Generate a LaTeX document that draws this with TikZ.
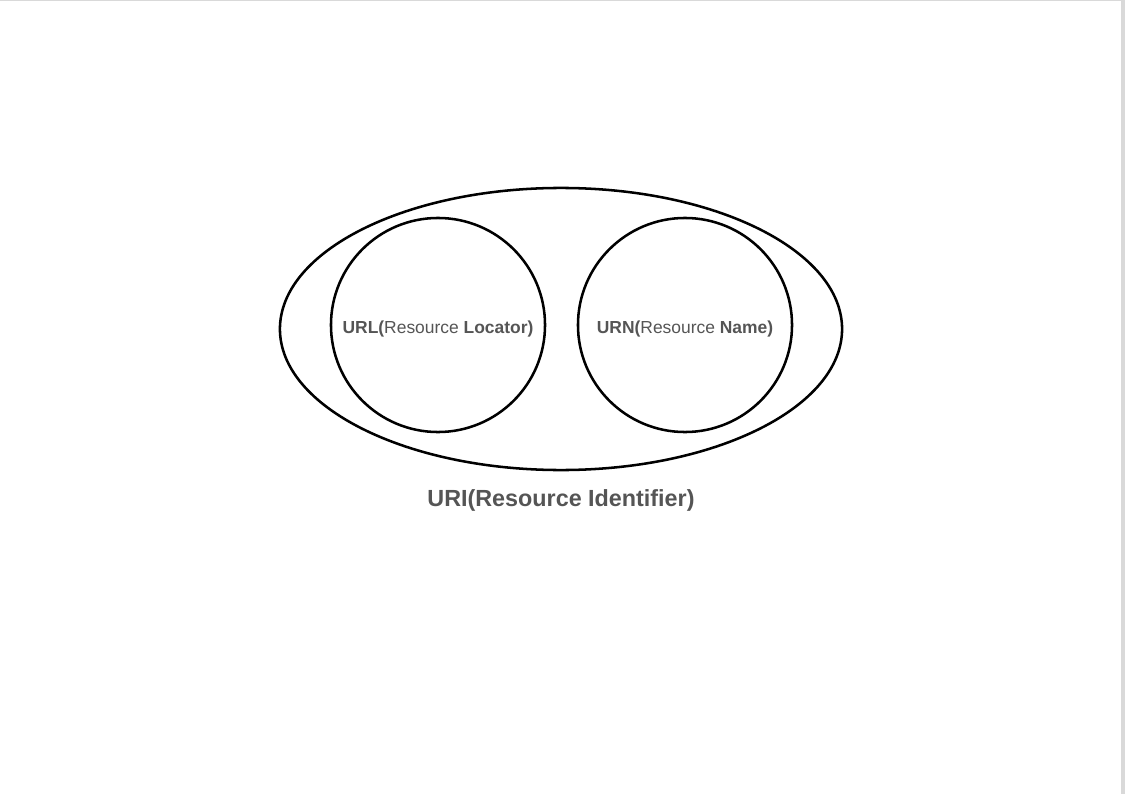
\documentclass[tikz,border=0pt]{standalone}
\usepackage{fontspec}
\setmainfont{Liberation Sans}
\usepackage{xcolor}
\usepackage{tikz}
\usetikzlibrary{shapes}
\definecolor{labelgray}{HTML}{555555}

\begin{document}
\begin{tikzpicture}[x=0.025cm, y=-0.025cm,
  set/.style={draw, line width=1.8pt, inner sep=0pt},
  setlabel/.style={text=labelgray, font=\fontsize{12.4}{14}\selectfont, text depth=0pt}]
\useasboundingbox (0,0) rectangle (1125,794);
% page edge
\fill[black!15] (1121,0) rectangle (1125,794);
\draw[black!15, line width=1pt] (0,0.5) -- (1121,0.5);

% outer set and the two inner sets
\node (uri) [set, ellipse, minimum width=14.05cm, minimum height=7.05cm] at (561,329) {};
\node (url) [set, circle, minimum size=5.35cm] at (438,325) {};
\node (urn) [set, circle, minimum size=5.35cm] at (685,325) {};
\node (urltext) [setlabel] at (438,327.5) {\textbf{URL(}Resource \textbf{Locator)}};
\node (urntext) [setlabel] at (685,327.5) {\textbf{URN(}Resource \textbf{Name)}};

\node (urilabel) [text=labelgray, font=\fontsize{16.6}{19}\selectfont\bfseries] at (561,500) {URI(Resource Identifier)};
\end{tikzpicture}
\end{document}
